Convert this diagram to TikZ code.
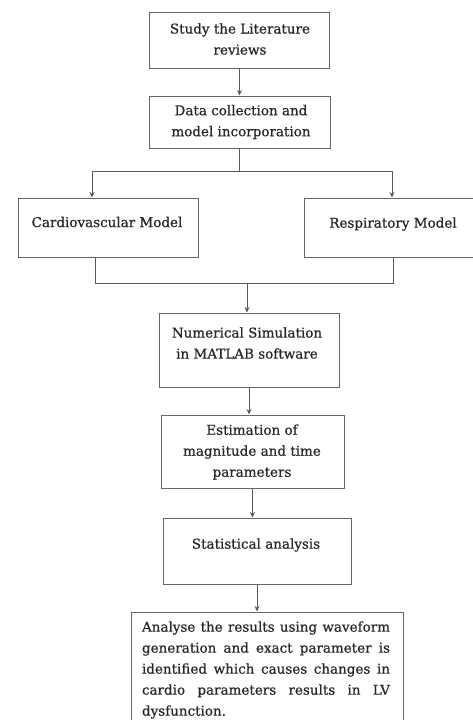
\documentclass[tikz,border=0pt]{standalone}
\usepackage{fontspec}
\setmainfont{DejaVu Serif}[FakeBold=0.5]
\usetikzlibrary{arrows.meta}
\tikzset{
  box/.style={draw=black!60, line width=1pt, rectangle, inner sep=0pt},
  lbl/.style={text=black!85, align=center, font=\fontsize{13.5}{21}\selectfont, inner sep=0pt},
  conn/.style={draw=black!65, line width=0.9pt},
  arr/.style={conn, -{Stealth[length=5.5pt,width=5pt]}}
}
\begin{document}
\begin{tikzpicture}[x=1pt,y=-1pt]
\clip (0,0) rectangle (473,720);
\fill[white] (0,0) rectangle (473,720);
% boxes
\node[box, minimum width=180pt, minimum height=56pt] (b1) at (239.5,40) {};
\node[box, minimum width=181pt, minimum height=52pt] (b2) at (239.5,122) {};
\node[box, minimum width=180pt, minimum height=59pt] (b3) at (108,227.5) {};
\node[box, minimum width=178pt, minimum height=59pt] (b4) at (393,227.5) {};
\node[box, minimum width=180pt, minimum height=74pt] (b5) at (249,350) {};
\node[box, minimum width=183pt, minimum height=73pt] (b6) at (252.5,451.5) {};
\node[box, minimum width=188pt, minimum height=66pt] (b7) at (257,551) {};
\node[box, minimum width=272pt, minimum height=120pt] (b8) at (267,672) {};
% labels
\node[lbl] (t1) at (240,39) {Study the Literature\\reviews};
\node[lbl] (t2) at (241,122) {Data collection and\\model incorporation};
\node[lbl] (t3) at (107,222) {Cardiovascular Model};
\node[lbl] (t4) at (393,224) {Respiratory Model};
\node[lbl] (t5) at (247,343) {Numerical Simulation\\in MATLAB software};
\node[lbl] (t6) at (252,452) {Estimation of\\magnitude and time\\parameters};
\node[lbl] (t7) at (256,545) {Statistical analysis};
\node[lbl, align=left] (t8) at (266,670) {%
\makebox[248pt][s]{Analyse the results using waveform}\\
\makebox[248pt][s]{generation and exact parameter is}\\
\makebox[248pt][s]{identified which causes changes in}\\
\makebox[248pt][s]{cardio parameters results in LV}\\
\makebox[248pt][l]{dysfunction.}};
% connectors
\coordinate (jl) at (92,171);
\coordinate (jr) at (392,171);
\coordinate (kl) at (95,283);
\coordinate (kr) at (393,283);
\coordinate (km) at (247,283);
\draw[arr] (b1.south) -- (b2.north);
\draw[conn] (b2.south) -- (b2.south |- jl);
\draw[conn] (jl) -- (jr);
\draw[arr] (jl) -- (jl |- b3.north);
\draw[arr] (jr) -- (jr |- b4.north);
\draw[conn] (kl |- b3.south) -- (kl) -- (kr) -- (kr |- b4.south);
\draw[arr] (km) -- (km |- b5.north);
\draw[arr] (b5.south) -- (b5.south |- b6.north);
\draw[arr] (b6.south) -- (b6.south |- b7.north);
\draw[arr] (b7.south) -- (b7.south |- b8.north);
\end{tikzpicture}
\end{document}
